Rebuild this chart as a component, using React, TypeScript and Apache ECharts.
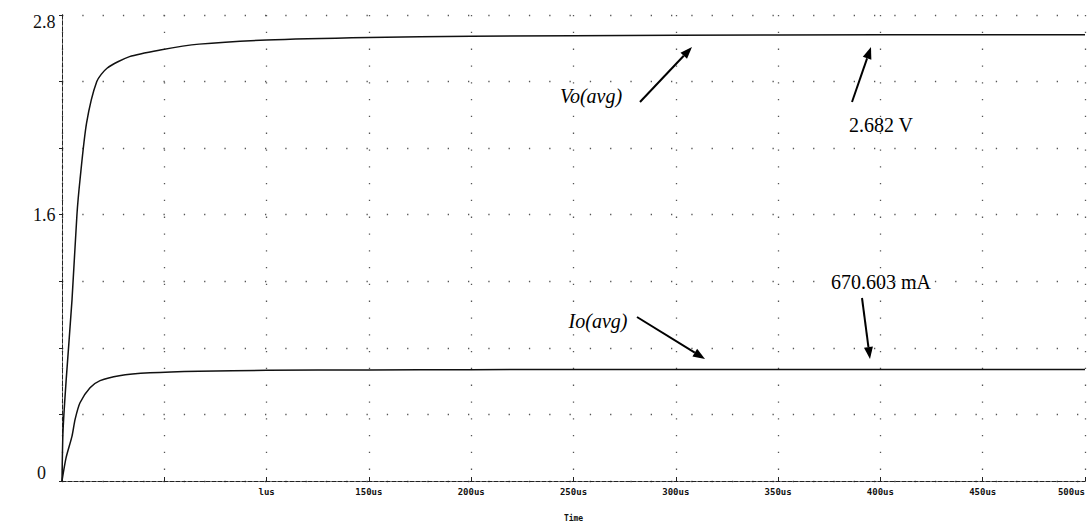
import React, { useEffect, useRef } from "react";
import * as echarts from "echarts";

// Time points (us) and averaged output values
const voTimes = [0, 0.5, 2, 4.9, 7.3, 8.8, 12, 17, 22, 33, 48, 67, 100, 150, 200, 300, 400, 500];
const voValues = [0, 0.3, 0.6, 1.09, 1.6, 1.81, 2.15, 2.4, 2.48, 2.55, 2.59, 2.625, 2.65, 2.665, 2.672, 2.678, 2.681, 2.682];
const ioTimes = [0, 2, 4.9, 6.4, 8.8, 13.7, 18.6, 28, 43, 67, 100, 150, 200, 300, 400, 500];
const ioValues = [0, 0.14, 0.27, 0.37, 0.47, 0.56, 0.603, 0.633, 0.65, 0.66, 0.665, 0.667, 0.669, 0.67, 0.6705, 0.6706];

const yLabels: Record<string, string> = { "0": "{b|0}", "1.6": "{a|1.6}", "2.8": "{t|2.8}" };
const xLabels: Record<string, string> = {
  "0": "", "50": "", "100": "lus", "150": "150us", "200": "200us", "250": "250us",
  "300": "300us", "350": "350us", "400": "400us", "450": "450us", "500": "500us",
};

function arrow(x1: number, y1: number, x2: number, y2: number) {
  const ang = Math.atan2(y2 - y1, x2 - x1);
  const L = 12, W = 4.5;
  const bx = x2 - L * Math.cos(ang), by = y2 - L * Math.sin(ang);
  const px = -Math.sin(ang) * W, py = Math.cos(ang) * W;
  return [
    { type: "line", shape: { x1, y1, x2: bx, y2: by }, style: { stroke: "#000", lineWidth: 2 } },
    {
      type: "polygon",
      shape: { points: [[x2, y2], [bx + px, by + py], [bx - px, by - py]] },
      style: { fill: "#000" },
    },
  ];
}

const annFont = "Liberation Serif, Times New Roman, serif";

export default function App() {
  const ref = useRef<HTMLDivElement>(null);
  useEffect(() => {
    if (!ref.current) return;
    const chart = echarts.init(ref.current, null, { renderer: "svg" });
    const dotted = { color: "#555", width: 1.3, type: [1.3, 19] as any };
    const dottedV = { color: "#555", width: 1.3, type: [1.3, 15.5] as any };
    const dashedAxis = { color: "#222", width: 1, type: [4, 2] as any };
    const yl = { fontSize: 18, color: "#111", fontFamily: annFont };
    chart.setOption({
      animation: false,
      backgroundColor: "#fff",
      grid: { left: 62, right: 3, top: 15, bottom: 46, containLabel: false },
      xAxis: [
        {
          type: "value", min: 0, max: 500, interval: 50, position: "bottom",
          axisLine: { show: true, lineStyle: dashedAxis },
          axisTick: { show: true, inside: true, length: 4, lineStyle: { color: "#222" } },
          splitLine: { show: true, lineStyle: dottedV },
          axisLabel: {
            margin: 6, fontSize: 9, fontWeight: "bold", color: "#111",
            fontFamily: "DejaVu Sans Mono, monospace",
            alignMaxLabel: "right",
            formatter: (v: number) => xLabels[String(Math.round(v))] ?? "",
          },
          name: "Time", nameLocation: "middle", nameGap: 33,
          nameTextStyle: { fontSize: 8, fontWeight: "bold", color: "#111", fontFamily: "DejaVu Sans Mono, monospace" },
        },
        {
          type: "value", min: 0, max: 500, position: "top",
          axisLine: { show: true, lineStyle: dashedAxis },
          axisTick: { show: false }, axisLabel: { show: false }, splitLine: { show: false },
        },
      ],
      yAxis: [
        {
          type: "value", min: 0, max: 2.8, interval: 0.4, position: "left",
          axisLine: { show: true, lineStyle: dashedAxis },
          axisTick: { show: true, inside: false, length: 3, lineStyle: { color: "#222" } },
          splitLine: { show: true, lineStyle: dotted },
          axisLabel: {
            margin: 29, align: "left", ...yl,
            formatter: (v: number) => yLabels[String(Math.round(v * 10) / 10)] ?? "",
            rich: {
              a: { ...yl },
              t: { ...yl, padding: [14, 0, 0, 0] },
              b: { ...yl, padding: [0, 0, 16, 4] },
            },
          },
        },
        {
          type: "value", min: 0, max: 2.8, position: "right",
          axisLine: { show: true, lineStyle: dashedAxis },
          axisTick: { show: false }, axisLabel: { show: false }, splitLine: { show: false },
        },
      ],
      series: [
        {
          type: "line", name: "Vo(avg)", xAxisIndex: 0, yAxisIndex: 0,
          data: voTimes.map((t, i) => [t, voValues[i]]),
          showSymbol: false, smooth: 0.25,
          lineStyle: { color: "#111", width: 1.5 },
        },
        {
          type: "line", name: "Io(avg)", xAxisIndex: 0, yAxisIndex: 0,
          data: ioTimes.map((t, i) => [t, ioValues[i]]),
          showSymbol: false, smooth: 0.25,
          lineStyle: { color: "#111", width: 1.5 },
        },
      ],
      graphic: [
        { type: "text", x: 591, y: 96, style: { text: "Vo(avg)", font: `italic 20px ${annFont}`, fill: "#000", align: "center", verticalAlign: "middle" } },
        ...arrow(640, 102, 692, 47),
        { type: "text", x: 881, y: 125, style: { text: "2.682 V", font: `20px ${annFont}`, fill: "#000", align: "center", verticalAlign: "middle" } },
        ...arrow(852, 102, 871, 47),
        { type: "text", x: 598, y: 321, style: { text: "Io(avg)", font: `italic 20px ${annFont}`, fill: "#000", align: "center", verticalAlign: "middle" } },
        ...arrow(637, 317, 705, 359),
        { type: "text", x: 881, y: 282, style: { text: "670.603 mA", font: `20px ${annFont}`, fill: "#000", align: "center", verticalAlign: "middle" } },
        ...arrow(862, 298, 870, 359),
      ],
    });
    return () => chart.dispose();
  }, []);
  return <div ref={ref} style={{ position: "fixed", left: 0, top: 0, width: 1088, height: 527 }} />;
}
